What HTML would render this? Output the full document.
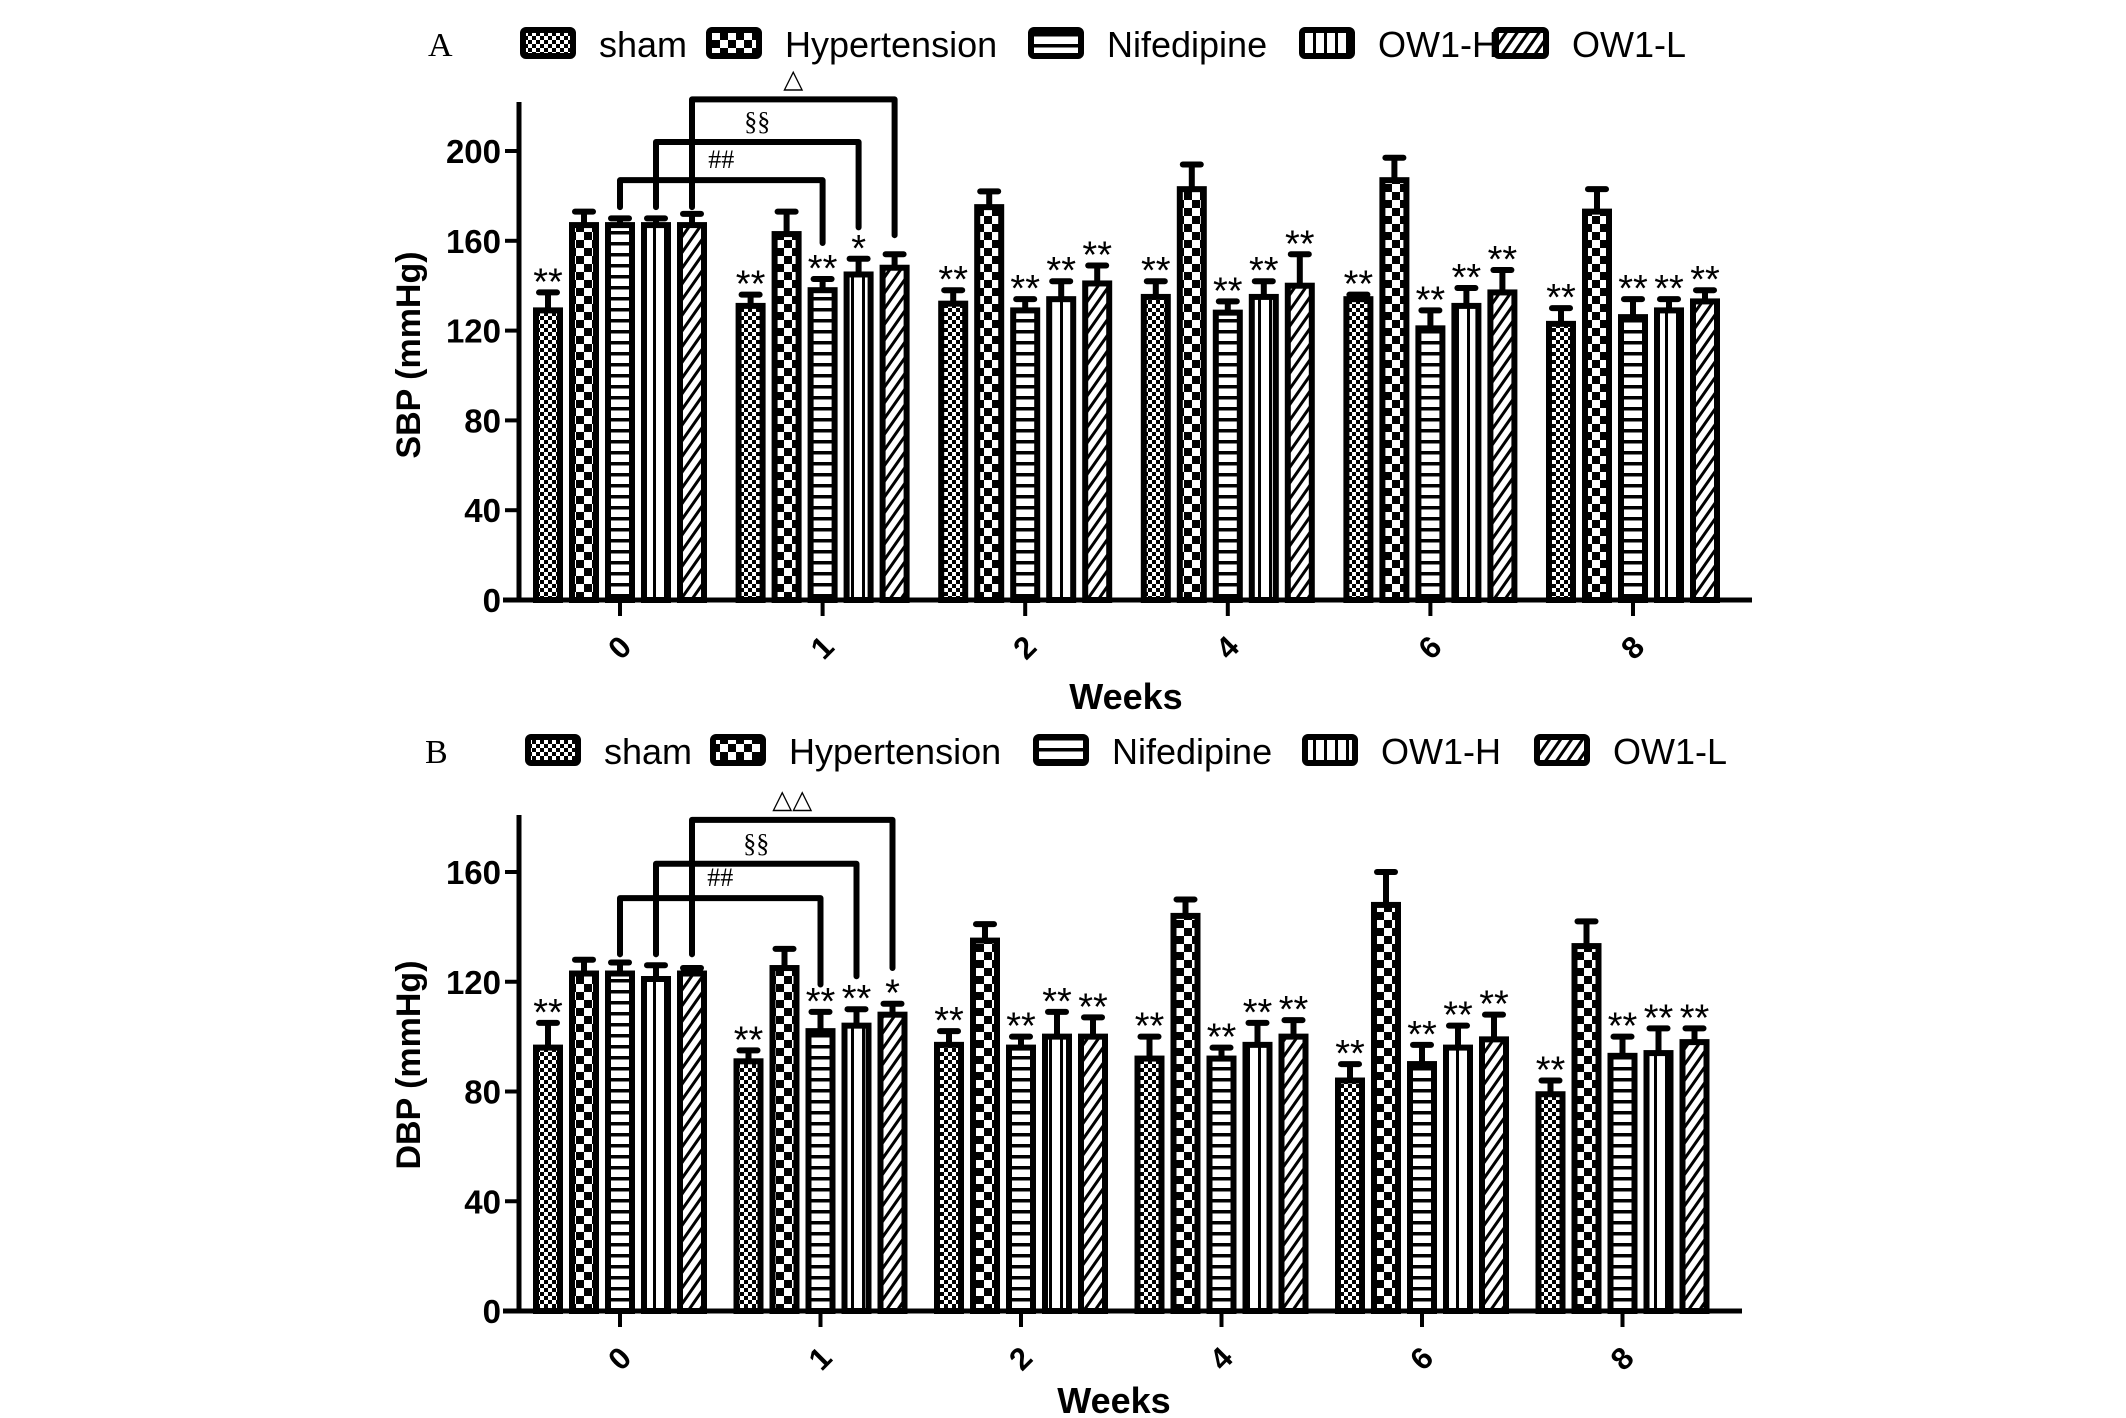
<!DOCTYPE html>
<html><head><meta charset="utf-8"><style>
html,body{margin:0;padding:0;background:#fff;}
svg{display:block;font-family:"Liberation Sans",Arial,sans-serif;}
</style></head><body>
<svg id="chart" width="2126" height="1418" viewBox="0 0 2126 1418" xmlns="http://www.w3.org/2000/svg">
<defs>
<pattern id="p-sham" width="8" height="8" patternUnits="userSpaceOnUse"><rect width="8" height="8" fill="#fff"/><rect width="4" height="4" fill="#000"/><rect x="4" y="4" width="4" height="4" fill="#000"/></pattern>
<pattern id="p-hyp" width="16" height="16" patternUnits="userSpaceOnUse"><rect width="16" height="16" fill="#fff"/><rect width="8" height="8" fill="#000"/><rect x="8" y="8" width="8" height="8" fill="#000"/></pattern>
<pattern id="p-nif" width="10" height="11" patternUnits="userSpaceOnUse"><rect width="10" height="11" fill="#fff"/><rect y="0" width="10" height="3.5" fill="#000"/></pattern>
<pattern id="p-owh" width="11" height="10" patternUnits="userSpaceOnUse" x="0"><rect width="11" height="10" fill="#fff"/><rect x="4" width="3" height="10" fill="#000"/></pattern>
<pattern id="p-owl" width="9" height="9" patternUnits="userSpaceOnUse" patternTransform="rotate(35)"><rect width="9" height="9" fill="#fff"/><rect width="3" height="9" fill="#000"/></pattern>
</defs>
</svg>
<script>
const groups = ["0","1","2","4","6","8"];
const seriesNames = ["sham","Hypertension","Nifedipine","OW1-H","OW1-L"];
const patternIds = ["p-sham","p-hyp","p-nif","p-owh","p-owl"];
const sbpSham = [129,131,132,135,134,123];
const sbpHyp = [167,163,175,183,187,173];
const sbpNif = [167,138,129,128,121,126];
const sbpOwh = [167,145,134,135,131,129];
const sbpOwl = [167,148,141,140,137,133];
const sbpErrSham = [8,5,6,7,2,7];
const sbpErrHyp = [6,10,7,11,10,10];
const sbpErrNif = [3,5,5,5,8,8];
const sbpErrOwh = [3,7,8,7,8,5];
const sbpErrOwl = [5,6,8,14,10,5];
const sbpStars = [["**","","","",""],["**","","**","*",""],["**","","**","**","**"],["**","","**","**","**"],["**","","**","**","**"],["**","","**","**","**"]];
const dbpSham = [96,91,97,92,84,79];
const dbpHyp = [123,125,135,144,148,133];
const dbpNif = [123,102,96,92,90,93];
const dbpOwh = [121,104,100,97,96,94];
const dbpOwl = [123,108,100,100,99,98];
const dbpErrSham = [9,4,5,8,6,5];
const dbpErrHyp = [5,7,6,6,12,9];
const dbpErrNif = [4,7,4,4,7,7];
const dbpErrOwh = [5,6,9,8,8,9];
const dbpErrOwl = [2,4,7,6,9,5];
const dbpStars = [["**","","","",""],["**","","**","**","*"],["**","","**","**","**"],["**","","**","**","**"],["**","","**","**","**"],["**","","**","**","**"]];
const sbpTicks = [0,40,80,120,160,200];
const dbpTicks = [0,40,80,120,160];
const sbpBrackets = [[2,175,187,2,159,"##"],[3,175,204,3,166,"§§"],[4,175,223,4,162.5,"△"]];
const dbpBrackets = [[2,130,150.5,2,119,"##"],[3,130,163,3,122,"§§"],[4,130,179,4,125,"△△"]];

const svg = document.getElementById('chart');
const NS = "http://www.w3.org/2000/svg";
function mk(tag, attrs, parent){ const e=document.createElementNS(NS,tag); for(const k in attrs) e.setAttribute(k,attrs[k]); (parent||svg).appendChild(e); return e; }

function panel(cfg){
  const g = mk('g',{});
  
  
  const y = v => cfg.y0 - v*(cfg.y0-cfg.yTopVal)/cfg.maxTick;
  const x = (gi, si) => cfg.centers0 + gi*cfg.gstep + (si-2)*36;
  const ya = mk('line',{x1:cfg.axisX,y1:cfg.axisTop,x2:cfg.axisX,y2:cfg.y0+2,stroke:'#000','stroke-width':5},g);
   
  const xa = mk('line',{x1:cfg.axisX-16,y1:cfg.y0,x2:cfg.axisEnd,y2:cfg.y0,stroke:'#000','stroke-width':5},g);
   
  cfg.ticks.forEach(t=>{
    mk('line',{x1:cfg.axisX-14,y1:y(t),x2:cfg.axisX,y2:y(t),stroke:'#000','stroke-width':4},g);
    const tx = mk('text',{x:cfg.axisX-18,y:y(t)+12,'text-anchor':'end','font-size':33,'font-weight':'bold'},g);
    tx.textContent=t;
     
  });
  groups.forEach((lab,gi)=>{
    const cx = cfg.centers0 + gi*cfg.gstep;
    mk('line',{x1:cx,y1:cfg.y0,x2:cx,y2:cfg.y0+16,stroke:'#000','stroke-width':4},g);
    const ty = cfg.y0+48;
    const tx = mk('text',{x:cx,y:ty+10,'text-anchor':'middle','font-size':31,'font-weight':'bold',transform:`rotate(-45 ${cx} ${ty})`},g);
    tx.textContent=lab;
     
  });
  cfg.vals.forEach((arr,si)=>{
    arr.forEach((v,gi)=>{
      const cx = x(gi,si), top=y(v), etop=y(v+cfg.errs[si][gi]);
      const r = mk('rect',{x:cx-12,y:top,width:24,height:cfg.y0-top,fill:`url(#${patternIds[si]})`,stroke:'#000','stroke-width':6},g);
      
      
      mk('line',{x1:cx,y1:top,x2:cx,y2:etop,stroke:'#000','stroke-width':6},g);
      mk('line',{x1:cx-9,y1:etop,x2:cx+9,y2:etop,stroke:'#000','stroke-width':6,'stroke-linecap':'round'},g);
      const s = cfg.stars[gi][si];
      if(s){
        const st = mk('text',{x:cx,y:etop+2,'text-anchor':'middle','font-size':38},g);
        st.textContent=s;
         
      }
    });
  });
  cfg.brackets.forEach(b=>{
    const x1 = x(0,b[0]), x2 = x(1,b[3]);
    const p = mk('path',{d:`M${x1} ${y(b[1])} V${y(b[2])} H${x2} V${y(b[4])}`,fill:'none',stroke:'#000','stroke-width':6,'stroke-linejoin':'round','stroke-linecap':'round'},g);
     
    const t = mk('text',{x:(x1+x2)/2,y:y(b[2])-12,'text-anchor':'middle','font-size':26,'font-family':'"Liberation Serif",serif'},g);
    t.textContent=b[5];
     
  });
  const yt = mk('text',{x:cfg.yTitleX,y:cfg.yTitleY,'text-anchor':'middle','font-size':34,'font-weight':'bold',transform:`rotate(-90 ${cfg.yTitleX} ${cfg.yTitleY})`},g);
  yt.textContent=cfg.yTitle;
   
  const xt = mk('text',{x:cfg.xTitleX,y:cfg.xTitleY,'text-anchor':'middle','font-size':36,'font-weight':'bold'},g);
  xt.textContent='Weeks';
   
  const lt = mk('text',{x:cfg.letterX,y:cfg.legY+12,'font-size':34,'font-family':'"Liberation Serif",serif'},g);
  lt.textContent=cfg.letter;
   
  seriesNames.forEach((n,si)=>{
    const bx = cfg.legBoxX[si];
    const r = mk('rect',{x:bx,y:cfg.legY-14,width:50,height:26,fill:`url(#${patternIds[si]})`,stroke:'#000','stroke-width':6,rx:3},g);
     
    const t = mk('text',{x:bx+76,y:cfg.legY+13,'font-size':36},g);
    t.textContent=n;
     
  });
}

panel({name:'panel-a-sbp',y0:600,yTopVal:151,maxTick:200,axisX:519,axisTop:102,axisEnd:1752,centers0:620,gstep:202.6,
  ticks:sbpTicks,vals:[sbpSham,sbpHyp,sbpNif,sbpOwh,sbpOwl],errs:[sbpErrSham,sbpErrHyp,sbpErrNif,sbpErrOwh,sbpErrOwl],
  stars:sbpStars,brackets:sbpBrackets,yTitle:'SBP (mmHg)',yTitleX:420,yTitleY:355,xTitleX:1126,xTitleY:709,
  letter:'A',letterX:428,legY:44,legBoxX:[523,709,1031,1302,1496]});
panel({name:'panel-b-dbp',y0:1311,yTopVal:872,maxTick:160,axisX:519,axisTop:815,axisEnd:1742,centers0:620,gstep:200.5,
  ticks:dbpTicks,vals:[dbpSham,dbpHyp,dbpNif,dbpOwh,dbpOwl],errs:[dbpErrSham,dbpErrHyp,dbpErrNif,dbpErrOwh,dbpErrOwl],
  stars:dbpStars,brackets:dbpBrackets,yTitle:'DBP (mmHg)',yTitleX:420,yTitleY:1065,xTitleX:1114,xTitleY:1413,
  letter:'B',letterX:425,legY:751,legBoxX:[528,713,1036,1305,1537]});
</script>
</body></html>
